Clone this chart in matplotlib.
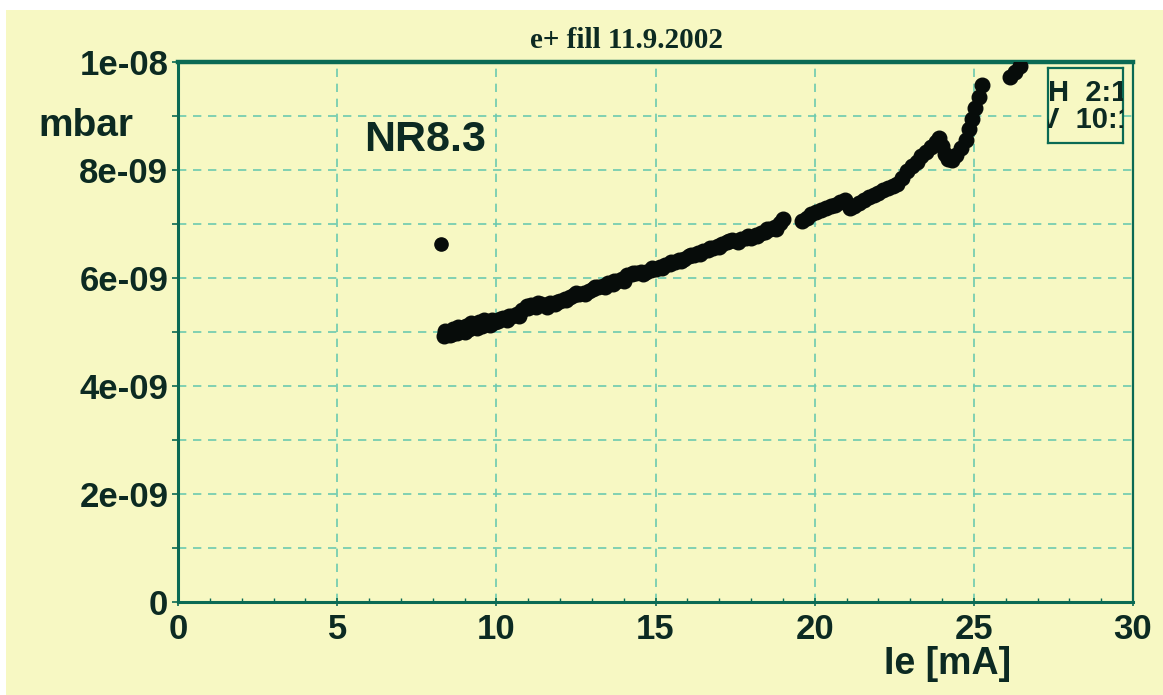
import matplotlib
matplotlib.use("Agg")
import matplotlib.pyplot as plt
from matplotlib.patches import Rectangle
from matplotlib.ticker import FixedLocator, FixedFormatter, MultipleLocator

# ---------------- data (Ie in mA, pressure in mbar) ----------------
outlier_x = [8.25]
outlier_y = [6.63e-9]

seg1_x = [8.35, 8.45, 8.55, 8.65, 8.75, 8.85, 8.95, 9.05, 9.15, 9.25, 9.35, 9.45,
          9.55, 9.65, 9.75, 9.85, 9.95, 10.05, 10.2, 10.35, 10.5, 10.65, 10.8, 10.95,
          11.1, 11.25, 11.4, 11.55, 11.7, 11.85, 12.0, 12.15, 12.3, 12.45, 12.6, 12.75,
          12.9, 13.05, 13.2, 13.35, 13.5, 13.65, 13.8, 13.95, 14.1, 14.25, 14.4, 14.55,
          14.7, 14.85, 15.0, 15.15, 15.3, 15.45, 15.6, 15.75, 15.9, 16.05, 16.2, 16.35,
          16.5, 16.65, 16.8, 16.95, 17.1, 17.25, 17.4, 17.55, 17.7, 17.85, 18.0, 18.15,
          18.3, 18.45, 18.6, 18.75, 18.9, 19.0]
seg1_y = [4.93, 5.00, 4.95, 5.05, 4.98, 5.08, 5.02, 5.12, 5.06, 5.15, 5.10, 5.18,
          5.12, 5.20, 5.15, 5.22, 5.18, 5.20, 5.26, 5.23, 5.30, 5.33, 5.40, 5.48,
          5.50, 5.47, 5.52, 5.50, 5.53, 5.52, 5.58, 5.62, 5.65, 5.68, 5.70, 5.73,
          5.76, 5.80, 5.84, 5.86, 5.90, 5.88, 5.95, 5.98, 6.05, 6.08, 6.10, 6.12,
          6.12, 6.15, 6.17, 6.20, 6.24, 6.26, 6.30, 6.33, 6.36, 6.40, 6.42, 6.46,
          6.50, 6.52, 6.56, 6.60, 6.63, 6.67, 6.70, 6.68, 6.72, 6.75, 6.74, 6.80,
          6.83, 6.86, 6.90, 6.95, 7.02, 7.10]

# a second, slightly offset pass of readings that thickens the band
seg1b_x = [8.4, 8.6, 8.8, 9.0, 9.2, 9.4, 9.6, 9.8, 10.1, 10.4, 10.7, 11.0, 11.3,
           11.6, 11.9, 12.2, 12.5, 12.8, 13.1, 13.4, 13.7, 14.0, 14.3, 14.6, 14.9,
           15.2, 15.5, 15.8, 16.1, 16.4, 16.7, 17.0, 17.3, 17.6, 17.9, 18.2, 18.5,
           18.8]
seg1b_y = [5.02, 4.96, 5.10, 5.00, 5.16, 5.08, 5.22, 5.13, 5.24, 5.30, 5.30, 5.44,
           5.53, 5.47, 5.56, 5.60, 5.72, 5.71, 5.84, 5.84, 5.94, 5.95, 6.10, 6.08,
           6.18, 6.18, 6.30, 6.31, 6.42, 6.44, 6.55, 6.57, 6.69, 6.66, 6.78, 6.77,
           6.90, 6.91]

seg2_x = [19.6, 19.75, 19.9, 20.05, 20.2, 20.35, 20.5, 20.65, 20.8, 20.95, 21.1, 21.25,
          21.4, 21.55, 21.7, 21.85, 22.0, 22.15, 22.3, 22.45, 22.6, 22.75, 22.9, 23.05,
          23.2, 23.35, 23.5, 23.65, 23.8, 23.9, 24.0, 24.1, 24.2, 24.3, 24.45, 24.6,
          24.75, 24.85, 24.95, 25.05, 25.15, 25.25]
seg2_y = [7.06, 7.12, 7.18, 7.22, 7.26, 7.30, 7.33, 7.36, 7.40, 7.44, 7.30, 7.33,
          7.38, 7.45, 7.50, 7.53, 7.58, 7.63, 7.66, 7.70, 7.75, 7.85, 7.98, 8.08,
          8.15, 8.25, 8.33, 8.43, 8.52, 8.60, 8.45, 8.30, 8.20, 8.18, 8.28, 8.40,
          8.55, 8.75, 8.95, 9.15, 9.35, 9.57]

seg3_x = [26.15, 26.3, 26.45]
seg3_y = [9.72, 9.82, 9.92]

x_ticks = [0, 5, 10, 15, 20, 25, 30]
y_ticks = [0, 2e-9, 4e-9, 6e-9, 8e-9, 1e-8]
y_tick_labels = ["0", "2e-09", "4e-09", "6e-09", "8e-09", "1e-08"]

title = "e+ fill 11.9.2002"
ylabel = "mbar"
xlabel = "Ie [mA]"
tag = "NR8.3"
box_lines = ["H  2:1", "V  10:1"]

# ---------------- styling ----------------
BG = "#f7f8c3"
FRAME = "#0b6a54"
GRID = "#6ccaaf"
INK = "#0c2a22"
DOT = "#070c0a"

fig = plt.figure(figsize=(11.63, 6.95), dpi=100)
fig.patch.set_facecolor("white")
fig.patches.append(Rectangle((6 / 1163, 0), 1.0, 1 - 10 / 695, transform=fig.transFigure,
                             facecolor=BG, edgecolor="none", zorder=-10))

ax = fig.add_axes([178 / 1163, 1 - 602 / 695, 955 / 1163, 540 / 695])
ax.set_facecolor(BG)
ax.set_xlim(0, 30)
ax.set_ylim(0, 1e-8)

ms = 10.5
for xs, ys in [(seg1_x, seg1_y), (seg1b_x, seg1b_y), (seg2_x, seg2_y), (seg3_x, seg3_y)]:
    ax.plot(xs, [v * 1e-9 for v in ys], linestyle="none", marker="o", ms=ms,
            color=DOT, mec=DOT, zorder=3)
ax.plot(outlier_x, outlier_y, linestyle="none", marker="o", ms=9.5, color=DOT, zorder=3)

# ticks & grid
ax.xaxis.set_major_locator(FixedLocator(x_ticks))
ax.xaxis.set_minor_locator(MultipleLocator(1))
ax.yaxis.set_major_locator(FixedLocator(y_ticks))
ax.yaxis.set_major_formatter(FixedFormatter(y_tick_labels))
ax.yaxis.set_minor_locator(MultipleLocator(1e-9))

ax.tick_params(axis="x", which="major", direction="inout", length=6, width=1.2,
               color=FRAME, pad=5, labelcolor=INK)
ax.tick_params(axis="x", which="minor", direction="in", length=3, width=1.0, color=FRAME)
ax.tick_params(axis="y", which="major", direction="out", length=4, width=1.2,
               color=FRAME, pad=3, labelcolor=INK)
ax.tick_params(axis="y", which="minor", direction="out", length=4, width=1.2, color=FRAME)
for lab in ax.get_xticklabels() + ax.get_yticklabels():
    lab.set_fontfamily("Liberation Sans")
    lab.set_fontweight("bold")
    lab.set_fontsize(25)

ax.grid(True, which="major", axis="x", color=GRID, linestyle=(0, (5, 4)), linewidth=1.2)
ax.grid(True, which="both", axis="y", color=GRID, linestyle=(0, (5, 4)), linewidth=1.2)
ax.set_axisbelow(True)

for side, lw in [("top", 3.2), ("left", 2.2), ("bottom", 2.2), ("right", 1.6)]:
    ax.spines[side].set_color(FRAME)
    ax.spines[side].set_linewidth(lw)

# texts
fig.text(627 / 1163, 1 - 40 / 695, title, ha="center", va="center",
         family="Liberation Serif", weight="bold", size=21, color=INK)
fig.text(86 / 1163, 1 - 126 / 695, ylabel, ha="center", va="center",
         family="Liberation Sans", weight="bold", size=28, color=INK)
fig.text(948 / 1163, 1 - 664 / 695, xlabel, ha="center", va="center",
         family="Liberation Sans", weight="bold", size=27, color=INK)
ax.text((425 - 178) / 955, (602 - 140) / 540, tag, transform=ax.transAxes, ha="center",
        va="center", family="Liberation Sans", weight="bold", size=31, color=INK)

# scale box (contents clipped by the box, as in the original)
bax = fig.add_axes([1048 / 1163, 1 - 143 / 695, 75 / 1163, 75 / 695])
bax.set_facecolor(BG)
bax.set_xlim(0, 1)
bax.set_ylim(0, 1)
bax.set_xticks([])
bax.set_yticks([])
for s in bax.spines.values():
    s.set_color(FRAME)
    s.set_linewidth(1.6)
bax.text(0.0, 0.67, box_lines[0], ha="left", va="center", family="Liberation Sans",
         weight="bold", size=21, color=INK, clip_on=True)
bax.text(-0.11, 0.30, box_lines[1], ha="left", va="center", family="Liberation Sans",
         weight="bold", size=21, color=INK, clip_on=True)

fig.savefig("out.png", dpi=100, facecolor=fig.get_facecolor())
